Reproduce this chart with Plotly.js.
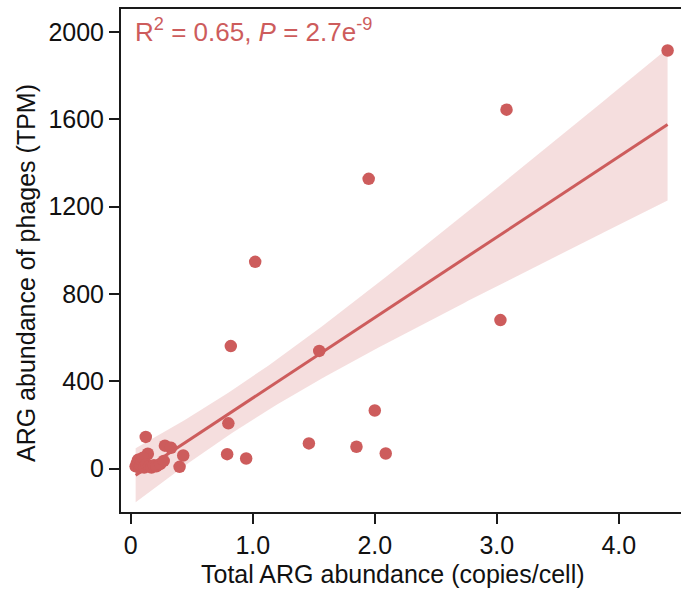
<!DOCTYPE html>
<html>
<head>
<meta charset="utf-8">
<script src="https://cdn.plot.ly/plotly-3.0.1.min.js"></script>
<style>html,body{margin:0;padding:0;background:#fff;}#chart{width:681px;height:592px;}</style>
</head>
<body>
<div id="chart"></div>
<script>
// Sample values
const argAbundance = [4.40, 3.08, 1.95, 1.02, 3.03, 0.82, 1.545, 2.00, 0.80, 1.46, 1.85, 2.09, 0.79, 0.946,
  0.28, 0.33, 0.43, 0.40, 0.123, 0.14,
  0.04, 0.05, 0.06, 0.07, 0.08, 0.09, 0.10, 0.11, 0.13, 0.15, 0.17, 0.19, 0.21, 0.24, 0.27];
const phageArg = [1915, 1644, 1327, 947, 680, 561, 539, 266, 207, 115, 100, 69, 66, 46,
  105, 95, 60, 8, 145, 68,
  10, 25, 40, 5, 15, 35, 50, 5, 20, 10, 5, 15, 10, 20, 35];
const xTickVals = [0, 1, 2, 3, 4];
const xTickText = ['0', '1.0', '2.0', '3.0', '4.0'];
const yTickVals = [0, 400, 800, 1200, 1600, 2000];
const statsLabel = 'R<sup>2</sup> = 0.65, <i>P</i> = 2.7e<sup>-9</sup>';
const xTitle = 'Total ARG abundance (copies/cell)';
const yTitle = 'ARG abundance of phages (TPM)';

// OLS fit and 95% confidence band computed from the data
const n = argAbundance.length;
const mx = argAbundance.reduce((a, b) => a + b, 0) / n;
const my = phageArg.reduce((a, b) => a + b, 0) / n;
let sxx = 0, sxy = 0, syy = 0;
for (let i = 0; i < n; i++) {
  const dx = argAbundance[i] - mx, dy = phageArg[i] - my;
  sxx += dx * dx; sxy += dx * dy; syy += dy * dy;
}
const slope = sxy / sxx;
const intercept = my - slope * mx;
const s = Math.sqrt((syy - slope * sxy) / (n - 2));
const T_CRIT = 2.0345; // t(0.975, df = n-2)
const xmin = Math.min(...argAbundance), xmax = Math.max(...argAbundance);
const gx = [], gy = [], gu = [], gl = [];
for (let k = 0; k <= 120; k++) {
  const x = xmin + (xmax - xmin) * k / 120;
  const yhat = intercept + slope * x;
  const se = s * Math.sqrt(1 / n + (x - mx) * (x - mx) / sxx);
  gx.push(x); gy.push(yhat); gu.push(yhat + T_CRIT * se); gl.push(yhat - T_CRIT * se);
}

const red = 'rgb(205,92,92)';
const FONT = 'Liberation Sans, Arial, sans-serif';
const axisColor = '#1a1a1a';

const traces = [
  {x: gx, y: gl, mode: 'lines', line: {width: 0}, hoverinfo: 'skip', showlegend: false},
  {x: gx, y: gu, mode: 'lines', line: {width: 0}, fill: 'tonexty', fillcolor: 'rgba(205,92,92,0.2)', hoverinfo: 'skip', showlegend: false},
  {x: gx, y: gy, mode: 'lines', line: {color: red, width: 3}, showlegend: false},
  {x: argAbundance, y: phageArg, mode: 'markers', marker: {color: red, size: 12.5, line: {width: 0}}, showlegend: false}
];

const layout = {
  width: 681, height: 592,
  margin: {l: 121, r: 0, t: 9, b: 80},
  paper_bgcolor: '#fff', plot_bgcolor: '#fff',
  font: {family: FONT, size: 25, color: '#111'},
  xaxis: {
    range: [-0.08, 4.51], showgrid: false, zeroline: false,
    showline: true, linecolor: axisColor, linewidth: 2, mirror: true,
    ticks: 'outside', ticklen: 10, tickwidth: 2, tickcolor: axisColor,
    tickvals: xTickVals, ticktext: xTickText,
    tickfont: {family: FONT, size: 25, color: '#111'}
  },
  yaxis: {
    range: [-199, 2105], showgrid: false, zeroline: false,
    showline: true, linecolor: axisColor, linewidth: 2, mirror: false,
    ticks: 'outside', ticklen: 10, tickwidth: 2, tickcolor: axisColor,
    tickvals: yTickVals,
    tickfont: {family: FONT, size: 25, color: '#111'}
  },
  annotations: [
    {text: statsLabel, xref: 'paper', yref: 'paper', x: 0.022, y: 0.958, xanchor: 'left', yanchor: 'middle',
     showarrow: false, font: {family: FONT, size: 26, color: red}},
    {text: xTitle, xref: 'paper', yref: 'paper', x: (392.5 - 121) / 560, y: -(574 - 512) / 503, xanchor: 'center', yanchor: 'middle',
     showarrow: false, font: {family: FONT, size: 25, color: '#111'}},
    {text: yTitle, xref: 'paper', yref: 'paper', x: -(121 - 26) / 560, y: (512 - 273) / 503, xanchor: 'center', yanchor: 'middle',
     textangle: -90, showarrow: false, font: {family: FONT, size: 25, color: '#111'}}
  ]
};

Plotly.newPlot('chart', traces, layout, {displayModeBar: false, staticPlot: true});
</script>
</body>
</html>
